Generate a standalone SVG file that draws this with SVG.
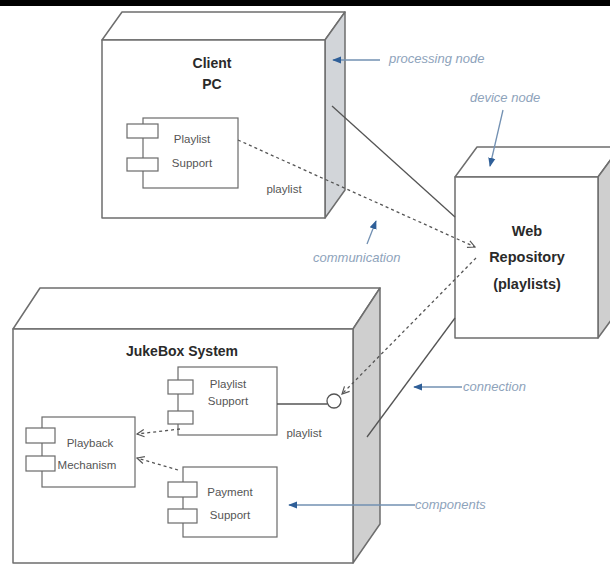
<svg xmlns="http://www.w3.org/2000/svg" width="610" height="566" viewBox="0 0 610 566">
  <style>
    .face { fill: #ffffff; stroke: #6e6e6e; stroke-width: 1.5; stroke-linejoin: round; }
    .side { fill: #cfcfcf; stroke: #6e6e6e; stroke-width: 1.5; stroke-linejoin: round; }
    .comp { fill: #ffffff; stroke: #6a6a6a; stroke-width: 1.2; }
    .title { font-family: "Liberation Sans", Arial, sans-serif; font-weight: bold; font-size: 14px; fill: #2a2a2a; text-anchor: middle; }
    .ctext { font-family: "Liberation Sans", Arial, sans-serif; font-size: 11.5px; fill: #555555; text-anchor: middle; }
    .note { font-family: "Liberation Sans", Arial, sans-serif; font-style: italic; font-size: 13px; fill: #8ea3bb; }
    .dep { fill: none; stroke: #555555; stroke-width: 1.3; stroke-dasharray: 3 3; }
    .link { fill: none; stroke: #555555; stroke-width: 1.3; }
    .callout { fill: none; stroke: #7290b2; stroke-width: 1.3; }
  </style>
  <defs>
    <marker id="open" viewBox="0 0 10 10" refX="9" refY="5" markerWidth="9" markerHeight="9" orient="auto" markerUnits="userSpaceOnUse">
      <path d="M1,1 L9,5 L1,9" fill="none" stroke="#555555" stroke-width="1.3"/>
    </marker>
    <marker id="solid" viewBox="0 0 10 10" refX="9" refY="5" markerWidth="9" markerHeight="9" orient="auto" markerUnits="userSpaceOnUse">
      <path d="M0,1 L10,5 L0,9 z" fill="#2f5f98"/>
    </marker>
  </defs>

  <rect x="0" y="0" width="610" height="6" fill="#000000"/>

  <!-- Client PC processing node -->
  <g id="client-pc">
    <polygon class="face" points="102,40 122,12 345,12 325,40"/>
    <polygon class="side" points="325,40 345,12 345,190 325,218" style="fill:#d2d5d9"/>
    <rect class="face" x="102" y="40" width="223" height="178"/>
    <text class="title" x="212" y="68">Client</text>
    <text class="title" x="212" y="89">PC</text>
    <g id="client-playlist-support">
      <rect class="comp" x="143" y="118" width="95" height="70"/>
      <rect class="comp" x="127" y="124" width="31" height="14"/>
      <rect class="comp" x="127" y="158" width="31" height="13"/>
      <text class="ctext" x="192" y="143">Playlist</text>
      <text class="ctext" x="192" y="167">Support</text>
    </g>
    <text class="ctext" x="284" y="193">playlist</text>
  </g>

  <!-- Web Repository device node -->
  <g id="web-repository">
    <polygon class="face" points="455,177 477,147 620,147 598,177"/>
    <polygon class="side" points="598,177 620,147 620,308 598,338"/>
    <rect class="face" x="455" y="177" width="143" height="161"/>
    <text class="title" x="527" y="236" style="font-size:14.5px">Web</text>
    <text class="title" x="527" y="262" style="font-size:14.5px">Repository</text>
    <text class="title" x="527" y="289" style="font-size:14.5px">(playlists)</text>
  </g>

  <!-- JukeBox System processing node -->
  <g id="jukebox-system">
    <polygon class="face" points="13,329 40,288 380,288 353,329"/>
    <polygon class="side" points="353,329 380,288 380,524 353,563"/>
    <rect class="face" x="13" y="329" width="340" height="234"/>
    <text class="title" x="182" y="356">JukeBox System</text>
    <g id="jukebox-playlist-support">
      <rect class="comp" x="178" y="367" width="99" height="68"/>
      <rect class="comp" x="168" y="380" width="25" height="14"/>
      <rect class="comp" x="168" y="411" width="25" height="13"/>
      <text class="ctext" x="228" y="388">Playlist</text>
      <text class="ctext" x="228" y="405">Support</text>
    </g>
    <g id="playback-mechanism">
      <rect class="comp" x="42" y="417" width="93" height="70"/>
      <rect class="comp" x="26" y="428" width="29" height="15"/>
      <rect class="comp" x="26" y="456" width="29" height="15"/>
      <text class="ctext" x="90" y="447">Playback</text>
      <text class="ctext" x="87" y="469">Mechanism</text>
    </g>
    <g id="payment-support">
      <rect class="comp" x="183" y="467" width="94" height="70"/>
      <rect class="comp" x="168" y="482" width="29" height="15"/>
      <rect class="comp" x="168" y="509" width="29" height="14"/>
      <text class="ctext" x="230" y="496">Payment</text>
      <text class="ctext" x="230" y="519">Support</text>
    </g>
    <g id="playlist-interface">
      <line class="link" x1="277" y1="404" x2="327" y2="404"/>
      <circle cx="334" cy="401" r="7" fill="#ffffff" stroke="#555555" stroke-width="1.3"/>
    </g>
    <text class="ctext" x="304" y="437">playlist</text>
  </g>

  <!-- connections and dependencies -->
  <g id="connectors">
    <line class="link" x1="332" y1="106" x2="455" y2="217"/>
    <line class="link" x1="367" y1="437" x2="455" y2="318"/>
    <line class="dep" x1="238" y1="140" x2="475" y2="247" marker-end="url(#open)"/>
    <line class="dep" x1="476" y1="258" x2="342" y2="394" marker-end="url(#open)"/>
    <line class="dep" x1="180" y1="429" x2="137" y2="434" marker-end="url(#open)"/>
    <line class="dep" x1="178" y1="470" x2="137" y2="458" marker-end="url(#open)"/>
  </g>

  <!-- explanatory callouts -->
  <g id="callouts">
    <line class="callout" x1="380" y1="60" x2="333" y2="60" marker-end="url(#solid)"/>
    <text class="note" x="389" y="63">processing node</text>
    <line class="callout" x1="503" y1="110" x2="490" y2="166" marker-end="url(#solid)"/>
    <text class="note" x="470" y="102">device node</text>
    <line class="callout" x1="367" y1="244" x2="376" y2="221" marker-end="url(#solid)"/>
    <text class="note" x="313" y="262">communication</text>
    <line class="callout" x1="462" y1="387" x2="414" y2="387" marker-end="url(#solid)"/>
    <text class="note" x="463" y="391">connection</text>
    <line class="callout" x1="415" y1="505" x2="289" y2="505" marker-end="url(#solid)"/>
    <text class="note" x="415" y="509">components</text>
  </g>
</svg>
